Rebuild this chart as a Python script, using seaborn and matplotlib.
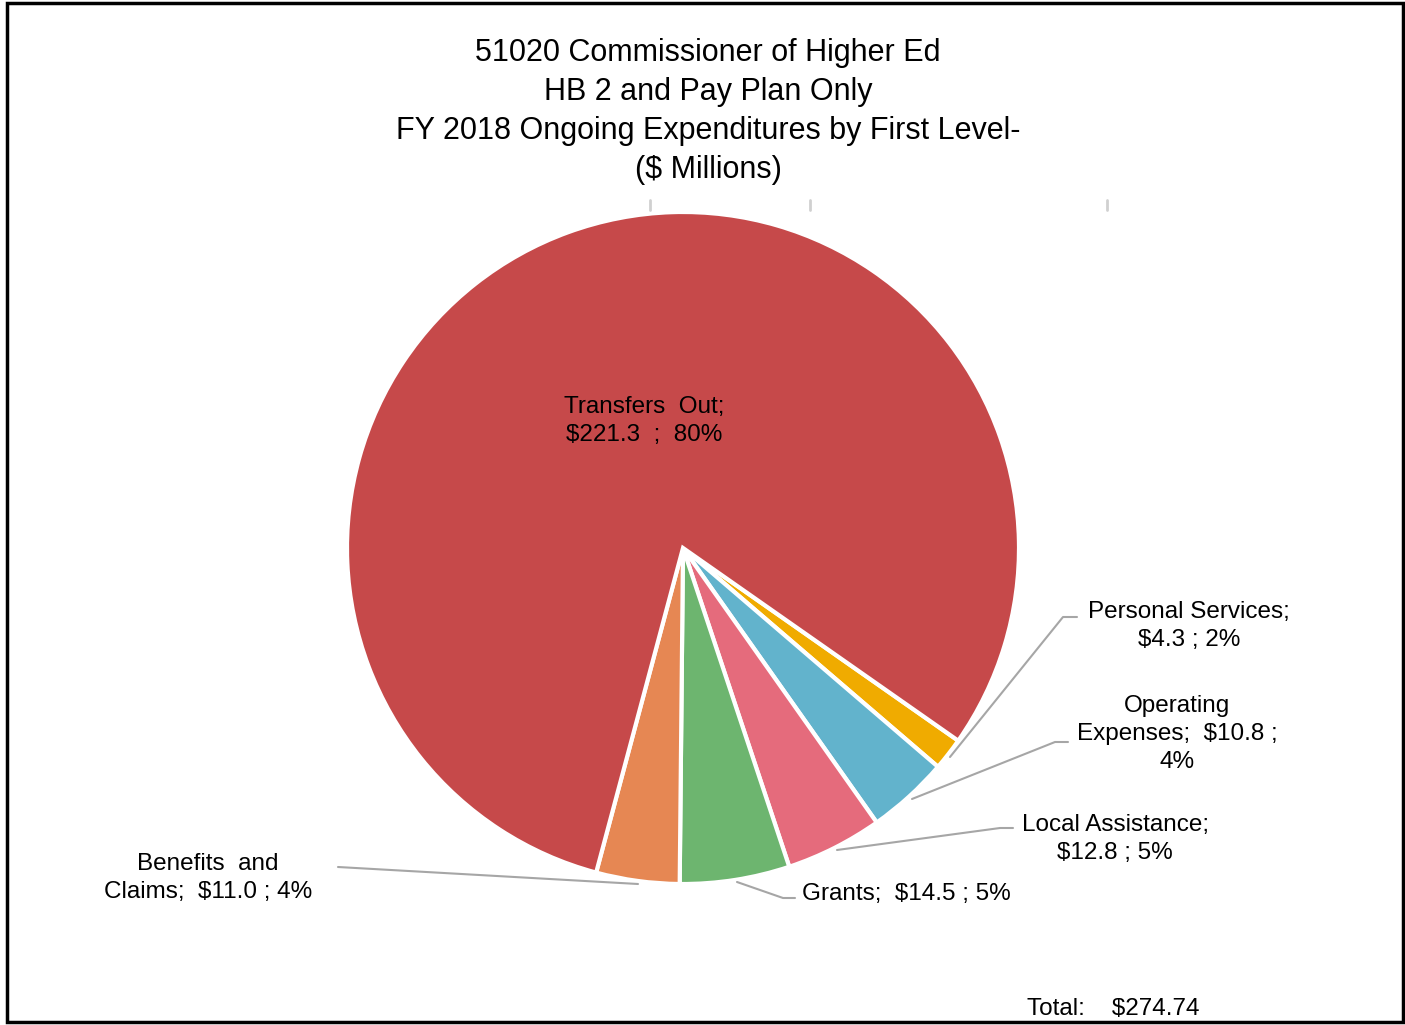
import matplotlib
matplotlib.use("Agg")
import matplotlib.pyplot as plt
import seaborn as sns
from matplotlib.patches import Rectangle

# Pie of FY 2018 ongoing expenditures, Commissioner of Higher Ed

categories = ["Personal Services", "Operating Expenses", "Local Assistance",
              "Grants", "Benefits and Claims", "Transfers Out"]
amounts = [4.3, 10.8, 12.8, 14.5, 11.0, 221.3]
percents = [2, 4, 5, 5, 4, 80]
total = 274.74
slice_colors = ["#F0AB00", "#62B3CC", "#E56B7C", "#6DB56F", "#E68753", "#C6494A"]
title_lines = ["51020 Commissioner of Higher Ed",
               "HB 2 and Pay Plan Only",
               "FY 2018 Ongoing Expenditures by First Level-",
               "($ Millions)"]

# label wording / wrapping as it appears on the chart
label_fmt = {
    "Personal Services": "Personal Services;\n${v:.1f} ; {p}%",
    "Operating Expenses": "Operating\nExpenses;  ${v:.1f} ;\n{p}%",
    "Local Assistance": "Local Assistance;\n${v:.1f} ; {p}%",
    "Grants": "Grants;  ${v:.1f} ; {p}%",
    "Benefits and Claims": "Benefits  and\nClaims;  ${v:.1f} ; {p}%",
    "Transfers Out": "Transfers  Out;\n${v:.1f}  ;  {p}%",
}

# layout in pixels (y measured from top)
W, H = 1405, 1025
label_pos = {
    "Personal Services": (1189, 626),
    "Operating Expenses": (1177, 734),
    "Local Assistance": (1115, 839),
    "Grants": (906, 894),
    "Benefits and Claims": (208, 878),
    "Transfers Out": (644, 421),
}
leaders = {
    "Personal Services": [(950, 757), (1063, 617), (1077, 617)],
    "Operating Expenses": [(912, 799), (1055, 742), (1068, 742)],
    "Local Assistance": [(837, 850), (1000, 828), (1013, 828)],
    "Grants": [(737, 882), (783, 898), (795, 898)],
    "Benefits and Claims": [(638, 884), (338, 867)],
}


def Y(y):
    return H - y


sns.set_theme(style="white")
plt.rcParams["font.family"] = ["Liberation Sans", "DejaVu Sans"]

fig = plt.figure(figsize=(W / 100, H / 100), dpi=100)
ax = fig.add_axes([0, 0, 1, 1])

ax.pie(amounts, colors=slice_colors, startangle=-35, counterclock=False,
       center=(683, Y(548)), radius=336,
       wedgeprops=dict(edgecolor="white", linewidth=3))

for cat, v, p in zip(categories, amounts, percents):
    x, y = label_pos[cat]
    ax.text(x, Y(y), label_fmt[cat].format(v=v, p=p), ha="center", va="center",
            fontsize=17.5, color="black", linespacing=1.35)
    if cat in leaders:
        pts = leaders[cat]
        ax.plot([q[0] for q in pts], [Y(q[1]) for q in pts], color="#A6A6A6", lw=1.5)

for i, line in enumerate(title_lines):
    ax.text(708, Y(53 + 39 * i), line, ha="center", va="center", fontsize=22, color="black")

ax.text(1113, Y(1009), f"Total:    ${total:.2f}", ha="center", va="center",
        fontsize=17.5, color="black")

# faint marks under the title
for x in [650, 810, 1107]:
    ax.plot([x, x], [Y(200), Y(210)], color="#D0D0D0", lw=2)

ax.add_patch(Rectangle((7, Y(1022)), 1396, 1019, fill=False, edgecolor="black", lw=2.5))

ax.set_xlim(0, W)
ax.set_ylim(0, H)
ax.set_aspect("auto")
ax.axis("off")

fig.savefig("out.png", dpi=100, facecolor="white")
